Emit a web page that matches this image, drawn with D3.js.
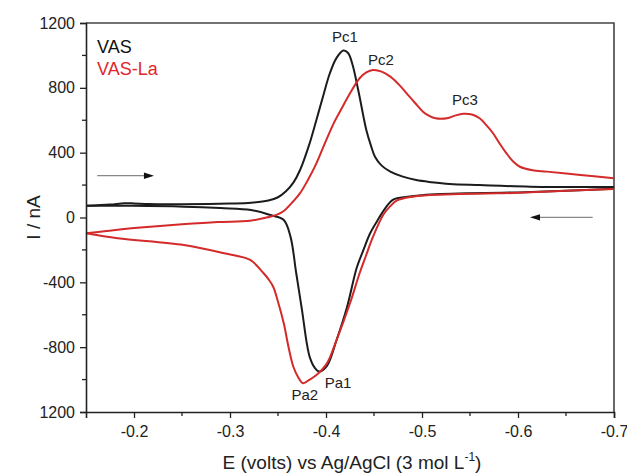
<!DOCTYPE html>
<html>
<head>
<meta charset="utf-8">
<script src="https://cdn.jsdelivr.net/npm/d3@7"></script>
<style>
  html, body { margin: 0; padding: 0; background: #fff; }
  svg { display: block; }
  text { font-family: "Liberation Sans", Arial, sans-serif; }
</style>
</head>
<body>
<svg id="chart" width="627" height="475"></svg>
<script>
// ---------------- data ----------------
const seriesNames = ["VAS", "VAS-La"];
const seriesColors = ["#1c1c1c", "#d42a2a"];

// VAS: forward (cathodic) scan, E (V), I (nA)
const vasForward = [
  [-0.150, 72], [-0.175, 80], [-0.190, 88], [-0.200, 87], [-0.215, 83], [-0.250, 82],
  [-0.300, 86], [-0.322, 91], [-0.340, 105], [-0.350, 125], [-0.358, 160], [-0.366, 215],
  [-0.373, 293], [-0.382, 440], [-0.390, 602], [-0.398, 770], [-0.404, 890], [-0.411, 985],
  [-0.418, 1030], [-0.423, 1015], [-0.428, 935], [-0.432, 830], [-0.435, 745], [-0.442, 540],
  [-0.447, 440], [-0.451, 375], [-0.458, 320], [-0.467, 283], [-0.480, 252], [-0.494, 231],
  [-0.510, 218], [-0.529, 207], [-0.560, 200], [-0.613, 190], [-0.700, 188]
];
// VAS: reverse (anodic) scan
const vasReverse = [
  [-0.700, 178], [-0.650, 165], [-0.600, 155], [-0.550, 150], [-0.520, 145], [-0.500, 138],
  [-0.485, 128], [-0.470, 110], [-0.462, 60], [-0.455, -5], [-0.446, -97], [-0.439, -200],
  [-0.432, -310], [-0.422, -550], [-0.411, -756], [-0.401, -915], [-0.393, -950], [-0.388, -925],
  [-0.383, -860], [-0.380, -776], [-0.375, -571], [-0.369, -344], [-0.363, -118], [-0.356, -15],
  [-0.342, 15], [-0.322, 46], [-0.290, 58], [-0.252, 67], [-0.200, 72], [-0.150, 72]
];
// VAS-La: forward scan
const vasLaForward = [
  [-0.150, -97], [-0.183, -75], [-0.217, -57], [-0.250, -42], [-0.287, -28], [-0.321, -20],
  [-0.339, 1], [-0.349, 18], [-0.356, 40], [-0.366, 100], [-0.373, 150], [-0.381, 230],
  [-0.390, 334], [-0.399, 460], [-0.408, 581], [-0.417, 680], [-0.425, 766], [-0.435, 859],
  [-0.442, 895], [-0.449, 910], [-0.458, 900], [-0.467, 869], [-0.476, 820], [-0.484, 766],
  [-0.493, 705], [-0.501, 653], [-0.508, 625], [-0.514, 612], [-0.526, 612], [-0.535, 630],
  [-0.543, 640], [-0.552, 635], [-0.560, 612], [-0.567, 570], [-0.574, 520], [-0.581, 455],
  [-0.588, 396], [-0.595, 345], [-0.602, 313], [-0.615, 292], [-0.630, 283], [-0.665, 262],
  [-0.700, 242]
];
// VAS-La: reverse scan
const vasLaReverse = [
  [-0.700, 176], [-0.650, 165], [-0.600, 152], [-0.578, 149], [-0.540, 145], [-0.508, 139],
  [-0.490, 128], [-0.474, 105], [-0.467, 70], [-0.460, 20], [-0.449, -118], [-0.442, -230],
  [-0.435, -344], [-0.425, -529], [-0.411, -756], [-0.401, -900], [-0.390, -972], [-0.383, -1000],
  [-0.376, -1023], [-0.371, -985], [-0.366, -921], [-0.361, -800], [-0.356, -653], [-0.350, -520],
  [-0.345, -427], [-0.340, -380], [-0.335, -344], [-0.321, -262], [-0.294, -221], [-0.252, -170],
  [-0.183, -128], [-0.150, -97]
];

const xTickValues = [-0.2, -0.3, -0.4, -0.5, -0.6, -0.7];
const xTickLabels = ["-0.2", "-0.3", "-0.4", "-0.5", "-0.6", "-0.7"];
const xMinorTicks = [-0.25, -0.35, -0.45, -0.55, -0.65];
const yTickValues = [1200, 800, 400, 0, -400, -800, -1200];
const yTickLabels = ["1200", "800", "400", "0", "-400", "-800", "1200"];
const yMinorTicks = [1000, 600, 200, -200, -600, -1000];

const peakLabels = [
  { text: "Pc1", e: -0.4198, i: 1114 },
  { text: "Pc2", e: -0.4573, i: 975 },
  { text: "Pc3", e: -0.5448, i: 728 },
  { text: "Pa1", e: -0.4125, i: -1015 },
  { text: "Pa2", e: -0.3780, i: -1095 }
];
const scanArrows = [
  { from: [-0.1617, 258], to: [-0.2208, 258], color: "#888" },
  { from: [-0.6778, 1], to: [-0.6125, 1], color: "#888" }
];

const xAxisTitle = "E (volts) vs Ag/AgCl (3 mol L";
const yAxisTitle = "I / nA";

// ---------------- layout ----------------
const L = 86, R = 614, T = 23, B = 412;
const svg = d3.select("#chart");

const x = d3.scaleLinear().domain([-0.15, -0.70]).range([L, R]);
const y = d3.scaleLinear().domain([-1200, 1200]).range([B, T]);

const line = d3.line()
  .x(d => x(d[0])).y(d => y(d[1]))
  .curve(d3.curveCatmullRom.alpha(0.5));

// frame (top, right)
svg.append("path")
  .attr("d", `M${L},${T}H${R}V${B}`)
  .attr("fill", "none").attr("stroke", "#444").attr("stroke-width", 1.6);

// curves
const curves = [
  { d: vasForward, c: 0 }, { d: vasReverse, c: 0 },
  { d: vasLaReverse, c: 1 }, { d: vasLaForward, c: 1 }
];
svg.append("g").selectAll("path").data(curves).join("path")
  .attr("d", d => line(d.d))
  .attr("fill", "none")
  .attr("stroke", d => seriesColors[d.c])
  .attr("stroke-width", 2)
  .attr("stroke-linejoin", "round");

// axes
const xAxis = d3.axisBottom(x).tickValues(xTickValues)
  .tickFormat((d, i) => xTickLabels[i]).tickSize(6).tickPadding(8);
const gx = svg.append("g").attr("transform", `translate(0,${B})`).call(xAxis);
gx.select(".domain").attr("stroke", "#222").attr("stroke-width", 1.6);
gx.selectAll(".tick line").attr("stroke", "#222").attr("stroke-width", 1.3);
gx.selectAll("text").attr("font-size", 16).attr("fill", "#222")
  .style("font-family", "'Liberation Sans', Arial, sans-serif");
svg.append("g").attr("transform", `translate(0,${B})`)
  .selectAll("line").data(xMinorTicks).join("line")
  .attr("x1", d => x(d)).attr("x2", d => x(d)).attr("y1", 0).attr("y2", 4)
  .attr("stroke", "#222").attr("stroke-width", 1.3);

const yAxis = d3.axisLeft(y).tickValues(yTickValues)
  .tickFormat((d, i) => yTickLabels[i]).tickSize(6).tickPadding(5);
const gy = svg.append("g").attr("transform", `translate(${L},0)`).call(yAxis);
gy.select(".domain").attr("stroke", "#222").attr("stroke-width", 1.6);
gy.selectAll(".tick line").attr("stroke", "#222").attr("stroke-width", 1.3);
gy.selectAll("text").attr("font-size", 16).attr("fill", "#222")
  .style("font-family", "'Liberation Sans', Arial, sans-serif");
svg.append("g").attr("transform", `translate(${L},0)`)
  .selectAll("line").data(yMinorTicks).join("line")
  .attr("x1", -4).attr("x2", 0).attr("y1", d => y(d)).attr("y2", d => y(d))
  .attr("stroke", "#222").attr("stroke-width", 1.3);

// axis titles
const xt = svg.append("text")
  .attr("x", 352).attr("y", 469)
  .attr("text-anchor", "middle").attr("font-size", 19).attr("fill", "#222")
  .text(xAxisTitle);
xt.append("tspan").attr("font-size", 12).attr("dy", -8).text("-1");
xt.append("tspan").attr("dy", 8).text(")");

svg.append("text")
  .attr("transform", `translate(40,${y(0)}) rotate(-90)`)
  .attr("text-anchor", "middle").attr("font-size", 19).attr("fill", "#222")
  .text(yAxisTitle);

// legend
svg.append("g").selectAll("text").data(seriesNames).join("text")
  .attr("x", 97).attr("y", (d, i) => 53 + i * 22)
  .attr("font-size", 18)
  .attr("fill", (d, i) => i === 0 ? "#111" : "#e0262b")
  .text(d => d);

// peak labels
svg.append("g").selectAll("text").data(peakLabels).join("text")
  .attr("x", d => x(d.e)).attr("y", d => y(d.i))
  .attr("text-anchor", "middle").attr("dominant-baseline", "central")
  .attr("font-size", 15).attr("fill", "#222")
  .text(d => d.text);

// scan direction arrows
scanArrows.forEach(a => {
  const x1 = x(a.from[0]), y1 = y(a.from[1]), x2 = x(a.to[0]), y2 = y(a.to[1]);
  const dir = Math.sign(x2 - x1);
  svg.append("line")
    .attr("x1", x1).attr("y1", y1).attr("x2", x2 - dir * 6).attr("y2", y2)
    .attr("stroke", a.color).attr("stroke-width", 1.3);
  svg.append("path")
    .attr("d", `M${x2},${y2}L${x2 - dir * 10},${y2 - 3.2}L${x2 - dir * 10},${y2 + 3.2}Z`)
    .attr("fill", "#111");
});
</script>
</body>
</html>
